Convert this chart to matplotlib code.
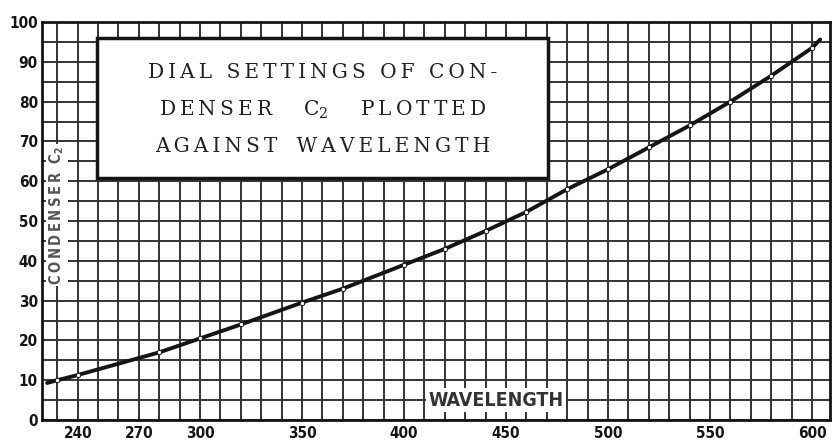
"""Dial settings of condenser C2 against wavelength (old magazine graph)."""

import matplotlib
matplotlib.use("Agg")
import matplotlib.pyplot as plt
from matplotlib.patches import Rectangle

# measured points (small circles on the curve)
wavelength = [230, 240, 280, 300, 320, 350, 370, 400, 420, 440,
              460, 480, 500, 520, 540, 560, 580, 600]
dial = [10.0, 11.3, 17.0, 20.5, 24.0, 29.5, 33.0, 39.0, 43.0, 47.5,
        52.3, 58.0, 63.0, 68.5, 74.0, 80.0, 86.5, 93.5]
# where the drawn curve begins and ends beyond the points
curve_start = (225, 9.3)
curve_end = (604, 95.6)

x_ticks = [240, 270, 300, 350, 400, 450, 500, 550, 600]
y_ticks = [0, 10, 20, 30, 40, 50, 60, 70, 80, 90, 100]

INK = "#151515"
GRID = "#333333"
LABEL_FONT = dict(family="DejaVu Sans", weight="bold", stretch="condensed")
SUB2 = r"C$_{\mathregular{2}}$"


def spaced(s):
    # old letterpress look: a thin space between the letters
    return "\u2009".join(s)


title_lines = [spaced("DIAL SETTINGS OF CON-"),
               spaced("DENSER") + "     " + SUB2 + "     " + spaced("PLOTTED"),
               spaced("AGAINST") + "   " + spaced("WAVELENGTH")]

fig = plt.figure(figsize=(8.33, 4.41), dpi=100)
ax = fig.add_axes([42 / 833, 21 / 441, 788 / 833, 398 / 441])
ax.set_xlim(222.5, 608.8)
ax.set_ylim(0, 100)

# graph paper: lines every 10 of wavelength, every 5 of dial
ax.set_xticks(range(230, 610, 10), minor=True)
ax.set_yticks(range(5, 100, 5), minor=True)
ax.set_xticks(x_ticks)
ax.set_yticks(y_ticks)
ax.grid(which="both", color=GRID, lw=1.4)
ax.set_axisbelow(True)
ax.tick_params(which="both", length=0)
ax.tick_params(axis="x", pad=4)
ax.tick_params(axis="y", pad=3)
for lab in ax.get_xticklabels() + ax.get_yticklabels():
    lab.set_fontproperties(dict(LABEL_FONT, size=11))
    lab.set_color(INK)
for s in ax.spines.values():
    s.set_color(INK)
    s.set_linewidth(2)

cx = [curve_start[0]] + wavelength + [curve_end[0]]
cy = [curve_start[1]] + dial + [curve_end[1]]
ax.plot(cx, cy, color=INK, lw=2.8, solid_capstyle="round", zorder=3)
ax.plot(wavelength, dial, "o", ms=3.2, mfc="white", mec=INK, mew=0.7, zorder=4)

# title box
box = Rectangle((0.0698, 0.608), 0.572, 0.352, transform=ax.transAxes,
                facecolor="white", edgecolor=INK, lw=2.5, zorder=5)
ax.add_patch(box)
for line, yy in zip(title_lines, [0.874, 0.779, 0.686]):
    ax.text(0.356, yy, line, transform=ax.transAxes, ha="center", va="center",
            family="DejaVu Serif", size=14.5, color="#222222", zorder=6)

ax.text(0.019, 0.515, spaced("CONDENSER") + "  " + SUB2, transform=ax.transAxes,
        rotation=90, ha="center", va="center", color="#555555", size=10.5,
        bbox=dict(facecolor="white", edgecolor="none", pad=1), zorder=5,
        **LABEL_FONT)
ax.text(0.576, 0.05, "WAVELENGTH", transform=ax.transAxes, ha="center",
        va="center", color="#333333", size=14,
        bbox=dict(facecolor="white", edgecolor="none", pad=2), zorder=5,
        **LABEL_FONT)

fig.savefig("out.png", dpi=100)
